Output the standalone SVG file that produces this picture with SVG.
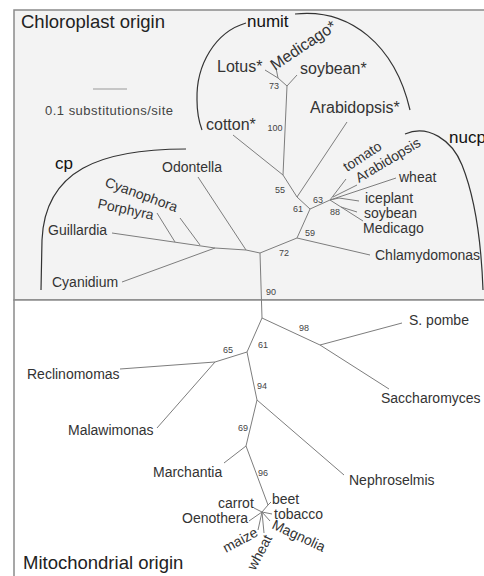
<svg xmlns="http://www.w3.org/2000/svg" width="484" height="576" viewBox="0 0 484 576">
<style>
text{font-family:"Liberation Sans",Arial,Helvetica,sans-serif}
.br{stroke:#7d7d7d;stroke-width:1;fill:none}
.arc{stroke:#333;stroke-width:1.2;fill:none}
.sp{font-size:14px;fill:#333}
.sp16{font-size:16px;fill:#333}
.bs{font-size:9px;fill:#444;text-anchor:middle}
.grp{font-size:17px;fill:#111}
.ttl{font-size:18.5px;fill:#222}
</style>
<g id="panels">
<rect x="14" y="10" width="480" height="290" fill="#f3f3f3" stroke="#8a8a8a" stroke-width="1.5"/>
<rect x="14" y="300" width="480" height="286" fill="#ffffff" stroke="#8a8a8a" stroke-width="1.5"/>
</g>
<g id="titles">
<text class="ttl" x="21" y="28">Chloroplast origin</text>
<text class="ttl" x="23" y="569">Mitochondrial origin</text>
</g>
<g id="scale">
<line x1="93" y1="89" x2="127" y2="89" stroke="#999" stroke-width="1"/>
<text x="45" y="115" font-size="13" fill="#444" textLength="128" lengthAdjust="spacing">0.1 substitutions/site</text>
</g>
<g id="arcs">
<path class="arc" d="M246,23 C215,32 196,65 197,100 C197,112 199,122 202,130"/>
<path class="arc" d="M295,14 C350,8 395,45 410,110"/>
<path class="arc" d="M405,134 C428,124 452,140 462,165 C474,195 481,235 483,290"/>
<path class="arc" d="M186,149 C100,149 45,170 42,240 L41,290"/>
</g>
<g id="group-labels">
<text class="grp" x="247" y="27">numit</text>
<text class="grp" x="449" y="143">nucp</text>
<text class="grp" x="55" y="169">cp</text>
</g>
<g id="connectors">
<path class="br" d="M265,70 L278,78 M276,68 L278,78 L287,86 M297,75 L287,86 L283,175 M233,135 L283,175 L297,197 M347,122 L297,197 L310,209"/>
<path class="br" d="M310,209 L330,200 M330,200 L346,179 M333,197 L357,185 M330,200 L396,178 M330,200 L339,198 L359,201 M330,200 L341,207 L357,212 M341,207 L363,221"/>
<path class="br" d="M310,209 L297,238 L370,255 M297,238 L260,253 L246,250 L215,248 M260,253 L262,318"/>
<path class="br" d="M246,250 L198,177 M215,248 L112,233 M175,242 L157,213 M200,245 L180,218 M215,248 L122,282"/>
<path class="br" d="M262,318 L320,345 L402,323 M320,345 L389,389 M262,318 L247,352 L215,362 L120,369 M215,362 L157,428 M247,352 L257,400 L344,475 M257,400 L246,446 L224,463 M246,446 L268,505 L271,502 M268,505 L262,512 L254,508 M262,512 L249,521 M262,512 L258,530 M262,512 L264,533 M262,512 L270,521 M262,512 L272,514"/>
</g>
<g id="bootstrap">
<text class="bs" x="274" y="89">73</text>
<text class="bs" x="275" y="131">100</text>
<text class="bs" x="280" y="193">55</text>
<text class="bs" x="298" y="212">61</text>
<text class="bs" x="318" y="203">63</text>
<text class="bs" x="335" y="215">88</text>
<text class="bs" x="310" y="236">59</text>
<text class="bs" x="284" y="256">72</text>
<text class="bs" x="271" y="295">90</text>
<text class="bs" x="304" y="331">98</text>
<text class="bs" x="263" y="348">61</text>
<text class="bs" x="228" y="353">65</text>
<text class="bs" x="262" y="389">94</text>
<text class="bs" x="243" y="431">69</text>
<text class="bs" x="263" y="476">96</text>
</g>
<g id="leaf-lotus"><text class="sp16" x="217" y="72">Lotus*</text></g>
<g id="leaf-medicago-mit"><text class="sp16" transform="translate(275,71) rotate(-34)">Medicago*</text></g>
<g id="leaf-soybean-mit"><text class="sp16" x="300" y="74">soybean*</text></g>
<g id="leaf-arabidopsis-mit"><text class="sp16" x="310" y="113">Arabidopsis*</text></g>
<g id="leaf-cotton"><text class="sp16" x="206" y="130">cotton*</text></g>
<g id="leaf-tomato"><text class="sp" transform="translate(347,172) rotate(-33)">tomato</text></g>
<g id="leaf-arabidopsis-cp"><text class="sp" transform="translate(359,183) rotate(-31)">Arabidopsis</text></g>
<g id="leaf-wheat-cp"><text class="sp" x="399" y="182">wheat</text></g>
<g id="leaf-iceplant"><text class="sp" x="365" y="203">iceplant</text></g>
<g id="leaf-soybean-cp"><text class="sp" x="364" y="218">soybean</text></g>
<g id="leaf-medicago-cp"><text class="sp" x="363" y="233">Medicago</text></g>
<g id="leaf-chlamydomonas"><text class="sp" x="375" y="260">Chlamydomonas</text></g>
<g id="leaf-odontella"><text class="sp" x="162" y="172">Odontella</text></g>
<g id="leaf-cyanophora"><text class="sp" transform="translate(104,186) rotate(20)">Cyanophora</text></g>
<g id="leaf-porphyra"><text class="sp" transform="translate(97,208) rotate(12)">Porphyra</text></g>
<g id="leaf-guillardia"><text class="sp" x="48" y="235">Guillardia</text></g>
<g id="leaf-cyanidium"><text class="sp" x="52" y="287">Cyanidium</text></g>
<g id="leaf-spombe"><text class="sp" x="409" y="325">S. pombe</text></g>
<g id="leaf-saccharomyces"><text class="sp" x="381" y="403">Saccharomyces</text></g>
<g id="leaf-reclinomonas"><text class="sp" x="27" y="379">Reclinomomas</text></g>
<g id="leaf-malawimonas"><text class="sp" x="68" y="435">Malawimonas</text></g>
<g id="leaf-nephroselmis"><text class="sp" x="349" y="485">Nephroselmis</text></g>
<g id="leaf-marchantia"><text class="sp" x="153" y="477">Marchantia</text></g>
<g id="leaf-carrot"><text class="sp" x="218" y="508">carrot</text></g>
<g id="leaf-oenothera"><text class="sp" x="182" y="523">Oenothera</text></g>
<g id="leaf-maize"><text class="sp" transform="translate(226,553) rotate(-28)">maize</text></g>
<g id="leaf-wheat-mit"><text class="sp" transform="translate(255,571) rotate(-62)">wheat</text></g>
<g id="leaf-magnolia"><text class="sp" transform="translate(271,528) rotate(25)">Magnolia</text></g>
<g id="leaf-tobacco"><text class="sp" x="274" y="519">tobacco</text></g>
<g id="leaf-beet"><text class="sp" x="272" y="504">beet</text></g>
</svg>
